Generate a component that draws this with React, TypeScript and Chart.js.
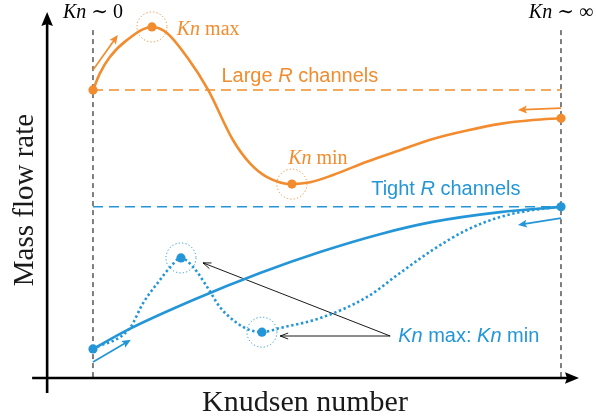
import { useEffect, useRef } from 'react';
import { Chart, registerables } from 'chart.js';

Chart.register(...registerables);

const ORANGE = '#F28C2E';
const BLUE = '#2496D7';
const INK = '#000000';
const SERIF = '"Liberation Serif", "DejaVu Serif", serif';
const SANS = '"Liberation Sans", "DejaVu Sans", sans-serif';

// Schematic Knudsen-number axis: 0 = continuum limit (Kn ~ 0), 100 = free-molecular limit (Kn ~ inf)
const limitKn = [0, 100];

// Large-R channels: overshoot near the continuum side, dip, then recovery
const largeKn = [0, 1.5, 3.6, 7.3, 12.6, 15.8, 20.1, 24.6, 29.9, 33.5, 37.2, 42.5, 46.4, 51.3, 58.5, 65.6, 72.6, 79.9, 87.0, 94.0, 100];
const largeFlow = [82.3, 87.1, 91.7, 96.6, 100.3, 98.6, 91.7, 82.3, 68.0, 61.4, 57.4, 55.4, 55.9, 58.0, 61.8, 65.1, 68.3, 70.7, 72.6, 73.7, 74.2];

// Tight-R channels, monotone branch
const tightKn = [0, 7.3, 21.4, 35.7, 48.5, 61.3, 72.6, 87.0, 100];
const tightFlow = [8.3, 13.7, 22.3, 30.0, 36.0, 41.1, 44.6, 47.4, 48.9];

// Tight-R channels, branch with a local max / local min
const wavyKn = [0, 7.9, 10.7, 14.3, 16.5, 18.8, 21.4, 24.4, 27.1, 30.8, 33.5, 36.1, 40.0, 48.5, 58.5, 65.6, 72.6, 79.9, 87.0, 94.0, 100];
const wavyFlow = [8.3, 14.3, 21.4, 28.0, 31.7, 34.3, 31.7, 26.0, 20.3, 15.7, 13.7, 13.1, 14.3, 17.1, 23.1, 30.0, 36.6, 42.3, 46.0, 48.0, 48.9];

// Reference levels of the two channel families
const largeLevel = 82.3;
const tightLevel = 48.9;
const guideTop = 99.4;

// Direction hints [fromKn, fromFlow, toKn, toFlow]
const orangeHints = [
  [0, 88.0, 5.3, 98.0],
  [100, 77.1, 90.8, 76.6],
];
const blueHints = [
  [0, 4.6, 8.1, 10.9],
  [100, 45.7, 90.8, 43.7],
];
const pointerLines = [
  [63.5, 12.0, 23.5, 32.9],
  [63.5, 12.0, 40.0, 12.0],
];

type Seg = { t: string; it?: boolean };
type Label = { segs: Seg[]; kn: number; flow: number; align: 'left' | 'center'; family: string; size: number; color: string };

const labels: Label[] = [
  { segs: [{ t: 'Kn', it: true }, { t: ' ∼ 0' }], kn: 0, flow: 102.9, align: 'center', family: SERIF, size: 20, color: INK },
  { segs: [{ t: 'Kn', it: true }, { t: ' ∼ ∞' }], kn: 100, flow: 102.9, align: 'center', family: SERIF, size: 20, color: INK },
  { segs: [{ t: 'Kn', it: true }, { t: ' max' }], kn: 17.9, flow: 98.0, align: 'left', family: SERIF, size: 20, color: ORANGE },
  { segs: [{ t: 'Kn', it: true }, { t: ' min' }], kn: 41.7, flow: 61.1, align: 'left', family: SERIF, size: 20, color: ORANGE },
  { segs: [{ t: 'Large ' }, { t: 'R', it: true }, { t: ' channels' }], kn: 44.2, flow: 84.6, align: 'center', family: SANS, size: 20, color: ORANGE },
  { segs: [{ t: 'Tight ' }, { t: 'R', it: true }, { t: ' channels' }], kn: 75.4, flow: 52.3, align: 'center', family: SANS, size: 20, color: BLUE },
  { segs: [{ t: 'Kn', it: true }, { t: ' max: ' }, { t: 'Kn', it: true }, { t: ' min' }], kn: 65.2, flow: 10.3, align: 'left', family: SANS, size: 20, color: BLUE },
];

const pts = (xs: number[], ys: number[]) => xs.map((x, i) => ({ x, y: ys[i] }));

function extremeIndex(ys: number[], kind: 'max' | 'min', from: number, to: number) {
  let best = from;
  for (let i = from; i <= to; i++) {
    if (kind === 'max' ? ys[i] > ys[best] : ys[i] < ys[best]) best = i;
  }
  return best;
}

const largeMax = extremeIndex(largeFlow, 'max', 0, 8);
const largeMin = extremeIndex(largeFlow, 'min', 5, largeFlow.length - 1);
const wavyMax = extremeIndex(wavyFlow, 'max', 0, 10);
const wavyMin = extremeIndex(wavyFlow, 'min', 6, 14);

function drawArrow(
  ctx: CanvasRenderingContext2D,
  x1: number, y1: number, x2: number, y2: number,
  lw: number, color: string, solid: boolean, len: number, half: number,
) {
  const a = Math.atan2(y2 - y1, x2 - x1);
  const c = Math.cos(a);
  const s = Math.sin(a);
  ctx.save();
  ctx.setLineDash([]);
  ctx.strokeStyle = color;
  ctx.fillStyle = color;
  ctx.lineWidth = lw;
  ctx.lineCap = 'butt';
  ctx.beginPath();
  ctx.moveTo(x1, y1);
  if (solid) ctx.lineTo(x2 - c * len * 0.6, y2 - s * len * 0.6);
  else ctx.lineTo(x2, y2);
  ctx.stroke();
  const bx = x2 - c * len;
  const by = y2 - s * len;
  ctx.beginPath();
  if (solid) {
    ctx.moveTo(x2, y2);
    ctx.lineTo(bx + s * half, by - c * half);
    ctx.lineTo(x2 - c * len * 0.8, y2 - s * len * 0.8);
    ctx.lineTo(bx - s * half, by + c * half);
    ctx.closePath();
    ctx.fill();
  } else {
    ctx.moveTo(bx + s * half, by - c * half);
    ctx.lineTo(x2, y2);
    ctx.lineTo(bx - s * half, by + c * half);
    ctx.stroke();
  }
  ctx.restore();
}

function richWidth(ctx: CanvasRenderingContext2D, l: Label) {
  let w = 0;
  for (const s of l.segs) {
    ctx.font = `${s.it ? 'italic ' : ''}${l.size}px ${l.family}`;
    w += ctx.measureText(s.t).width;
  }
  return w;
}

const sketchPlugin = {
  id: 'sketch',
  beforeDatasetsDraw(chart: any) {
    const { ctx } = chart;
    const xs = chart.scales.x;
    const ys = chart.scales.y;
    const X = (v: number) => xs.getPixelForValue(v);
    const Y = (v: number) => ys.getPixelForValue(v);

    // limit guides
    ctx.save();
    ctx.strokeStyle = INK;
    ctx.lineWidth = 1;
    ctx.setLineDash([5, 4]);
    for (const k of limitKn) {
      ctx.beginPath();
      ctx.moveTo(X(k), Y(guideTop));
      ctx.lineTo(X(k), Y(0));
      ctx.stroke();
    }
    ctx.restore();

    // axes with arrow heads
    const ox = X(-9.8);
    const oy = Y(0);
    ctx.save();
    ctx.strokeStyle = INK;
    ctx.fillStyle = INK;
    ctx.lineWidth = 2.6;
    ctx.setLineDash([]);
    ctx.beginPath();
    ctx.moveTo(ox, oy + 15);
    ctx.lineTo(ox, 22);
    ctx.moveTo(ox - 15, oy);
    ctx.lineTo(570, oy);
    ctx.stroke();
    ctx.beginPath();
    ctx.moveTo(ox, 12);
    ctx.lineTo(ox - 5.8, 26);
    ctx.lineTo(ox, 24);
    ctx.lineTo(ox + 5.8, 26);
    ctx.closePath();
    ctx.fill();
    ctx.beginPath();
    ctx.moveTo(579, oy);
    ctx.lineTo(565, oy - 5.8);
    ctx.lineTo(567, oy);
    ctx.lineTo(565, oy + 5.8);
    ctx.closePath();
    ctx.fill();
    ctx.restore();

    for (const [a, b, c, d] of orangeHints) drawArrow(ctx, X(a), Y(b), X(c), Y(d), 1.7, ORANGE, true, 9, 4);
    for (const [a, b, c, d] of blueHints) drawArrow(ctx, X(a), Y(b), X(c), Y(d), 1.7, BLUE, true, 9, 4);
    for (const [a, b, c, d] of pointerLines) drawArrow(ctx, X(a), Y(b), X(c), Y(d), 0.9, INK, false, 8, 3);
  },
  afterDatasetsDraw(chart: any) {
    const { ctx } = chart;
    const xs = chart.scales.x;
    const ys = chart.scales.y;
    const X = (v: number) => xs.getPixelForValue(v);
    const Y = (v: number) => ys.getPixelForValue(v);

    // dotted rings around the extrema
    const rings: [number, number, string][] = [
      [largeKn[largeMax], largeFlow[largeMax], ORANGE],
      [largeKn[largeMin], largeFlow[largeMin], ORANGE],
      [wavyKn[wavyMax], wavyFlow[wavyMax], BLUE],
      [wavyKn[wavyMin], wavyFlow[wavyMin], BLUE],
    ];
    ctx.save();
    ctx.lineWidth = 1;
    ctx.setLineDash([1.2, 2.2]);
    for (const [k, f, col] of rings) {
      ctx.strokeStyle = col;
      ctx.beginPath();
      ctx.arc(X(k), Y(f), 15, 0, Math.PI * 2);
      ctx.stroke();
    }
    ctx.restore();

    // labels
    ctx.save();
    ctx.textAlign = 'left';
    ctx.textBaseline = 'alphabetic';
    for (const l of labels) {
      const w = richWidth(ctx, l);
      let cx = l.align === 'center' ? X(l.kn) - w / 2 : X(l.kn);
      ctx.fillStyle = l.color;
      for (const s of l.segs) {
        ctx.font = `${s.it ? 'italic ' : ''}${l.size}px ${l.family}`;
        ctx.fillText(s.t, cx, Y(l.flow));
        cx += ctx.measureText(s.t).width;
      }
    }

    // axis titles
    ctx.fillStyle = '#1a1a1a';
    ctx.font = `30px ${SERIF}`;
    ctx.textAlign = 'center';
    ctx.fillText('Knudsen number', 305, 411);
    ctx.translate(33, 200);
    ctx.rotate(-Math.PI / 2);
    ctx.font = `29px ${SERIF}`;
    ctx.fillText('Mass flow rate', 0, 0);
    ctx.restore();
  },
};

export default function App() {
  const ref = useRef<HTMLCanvasElement>(null);

  useEffect(() => {
    if (!ref.current) return;
    const markers = [
      { x: largeKn[0], y: largeFlow[0], c: ORANGE },
      { x: largeKn[largeMax], y: largeFlow[largeMax], c: ORANGE },
      { x: largeKn[largeMin], y: largeFlow[largeMin], c: ORANGE },
      { x: largeKn[largeKn.length - 1], y: largeFlow[largeFlow.length - 1], c: ORANGE },
      { x: tightKn[0], y: tightFlow[0], c: BLUE },
      { x: wavyKn[wavyMax], y: wavyFlow[wavyMax], c: BLUE },
      { x: wavyKn[wavyMin], y: wavyFlow[wavyMin], c: BLUE },
      { x: tightKn[tightKn.length - 1], y: tightFlow[tightFlow.length - 1], c: BLUE },
    ];
    const chart = new Chart(ref.current, {
      type: 'line',
      data: {
        datasets: [
          {
            label: 'markers',
            data: markers.map((m) => ({ x: m.x, y: m.y })),
            showLine: false,
            pointRadius: 4.6,
            pointBackgroundColor: markers.map((m) => m.c),
            pointBorderWidth: 0,
          },
          {
            label: 'Large R',
            data: pts(largeKn, largeFlow),
            borderColor: ORANGE,
            borderWidth: 2.6,
            pointRadius: 0,
            cubicInterpolationMode: 'monotone',
          },
          {
            label: 'Tight R',
            data: pts(tightKn, tightFlow),
            borderColor: BLUE,
            borderWidth: 2.6,
            pointRadius: 0,
            cubicInterpolationMode: 'monotone',
          },
          {
            label: 'Tight R (non-monotone)',
            data: pts(wavyKn, wavyFlow),
            borderColor: BLUE,
            borderWidth: 2.6,
            borderDash: [2.4, 2.6],
            pointRadius: 0,
            cubicInterpolationMode: 'monotone',
          },
          {
            label: 'Large R level',
            data: pts(limitKn, [largeLevel, largeLevel]),
            borderColor: ORANGE,
            borderWidth: 1.5,
            borderDash: [10, 6],
            pointRadius: 0,
          },
          {
            label: 'Tight R level',
            data: pts(limitKn, [tightLevel, tightLevel]),
            borderColor: BLUE,
            borderWidth: 1.5,
            borderDash: [10, 6],
            pointRadius: 0,
          },
        ],
      },
      options: {
        animation: false,
        responsive: false,
        devicePixelRatio: 1,
        parsing: false as any,
        layout: { padding: 0, autoPadding: false },
        scales: {
          x: { type: 'linear', min: -19.87, max: 107.48, display: false },
          y: { type: 'linear', min: -12, max: 108, display: false },
        },
        plugins: { legend: { display: false }, tooltip: { enabled: false } },
        events: [],
      },
      plugins: [sketchPlugin],
    } as any);
    return () => chart.destroy();
  }, []);

  return (
    <div style={{ position: 'absolute', left: 0, top: 0, width: 596, height: 420, background: '#ffffff' }}>
      <canvas ref={ref} width={596} height={420} style={{ display: 'block' }} />
    </div>
  );
}
